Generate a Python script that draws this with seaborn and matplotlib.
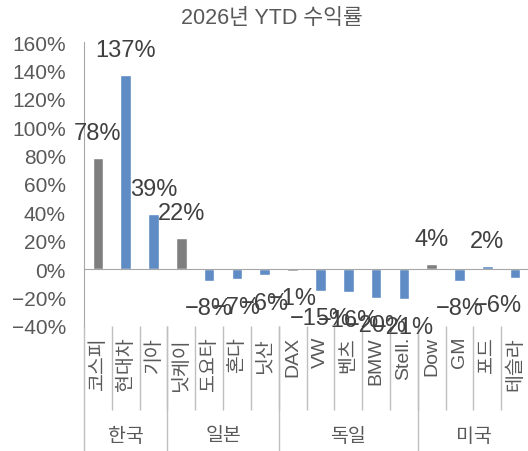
import numpy as np
import pandas as pd
import matplotlib
matplotlib.use("Agg")
import matplotlib.pyplot as plt
import seaborn as sns

# ─────────────────────────────────────────────
# DATOS
# ─────────────────────────────────────────────
nombres = ["코스피", "현대차", "기아", "닛케이", "도요타", "혼다", "닛산",
           "DAX", "VW", "벤츠", "BMW", "Stell.", "Dow", "GM", "포드", "테슬라"]
valores = [78, 137, 39, 22, -8, -7, -4, -1, -15, -16, -20, -21, 4, -8, 2, -6]
etiquetas = [78, 137, 39, 22, -8, -7, -6, -1, -15, -16, -20, -21, 4, -8, 2, -6]
tipo = ["지수", "종목", "종목", "지수", "종목", "종목", "종목",
        "지수", "종목", "종목", "종목", "종목", "지수", "종목", "종목", "종목"]
grupos = ["한국", "일본", "독일", "미국"]
tam_grupos = [3, 4, 5, 4]
yticks = [-40, -20, 0, 20, 40, 60, 80, 100, 120, 140, 160]

sns.set_style("white")
plt.rcParams['font.family'] = ['Liberation Sans', 'Noto Sans CJK KR']

GRIS_TXT = "#595959"
GRIS_LIN = "#BFBFBF"

df = pd.DataFrame({"nombre": nombres, "valor": valores, "tipo": tipo})

fig = plt.figure(figsize=(5.28, 4.52), dpi=100)
ax = fig.add_axes([84/528, 125/452, 445/528, 284/452])

sns.barplot(data=df, x="nombre", y="valor", hue="tipo",
            palette={"지수": "#7F7F7F", "종목": "#4E8AD6"},
            dodge=False, width=0.38, legend=False, ax=ax, zorder=3)

ax.set_xlim(-0.5, len(nombres) - 0.5)
ax.set_ylim(-40, 160)
ax.set_yticks(yticks)
ax.set_yticklabels([f"{v}%".replace("-", "−") for v in yticks], color=GRIS_TXT, fontsize=15)
ax.set_xlabel("")
ax.set_ylabel("")

for s in ["top", "right"]:
    ax.spines[s].set_visible(False)
ax.spines["left"].set_color("#A6A6A6")
ax.spines["bottom"].set_position(("data", 0))
ax.spines["bottom"].set_color("#A6A6A6")
ax.spines["bottom"].set_zorder(4)

bordes = np.arange(len(nombres) + 1) - 0.5
ax.set_xticks(bordes)
ax.set_xticklabels([""] * len(bordes))
ax.tick_params(axis="x", direction="in", length=6, color="#A6A6A6", width=1)
ax.tick_params(axis="y", direction="in", length=5, color="#A6A6A6", width=1, pad=13)

# etiquetas de datos
n = len(valores)
for i, (v, e) in enumerate(zip(valores, etiquetas)):
    off = 18 if v >= 0 else -20
    txt = f"{e}%".replace("-", "−")
    if i == n - 1:
        # la última se ajusta dentro del área, como en Excel
        ax.annotate(txt, (n - 0.5, v), xytext=(-5, off),
                    textcoords="offset points", ha="right", va="center",
                    fontsize=17, color="#404040", zorder=5, annotation_clip=False)
    else:
        ax.annotate(txt, (i, v), xytext=(0, off),
                    textcoords="offset points", ha="center", va="center",
                    fontsize=17, color="#404040", zorder=5)

# etiquetas de categorías y separadores
trans = ax.get_xaxis_transform()
for i, nm in enumerate(nombres):
    ax.text(i, -0.035, nm, rotation=90, ha="center", va="top",
            fontsize=14, color=GRIS_TXT, transform=trans)

ax.vlines(bordes[1:-1], -84/284, 0, transform=trans, clip_on=False,
          color=GRIS_LIN, lw=1)
limites = np.concatenate([[0], np.cumsum(tam_grupos)]) - 0.5
ax.vlines(limites, -125/284, 0, transform=trans, clip_on=False,
          color=GRIS_LIN, lw=1)
for g, a, b in zip(grupos, limites[:-1], limites[1:]):
    ax.text((a + b) / 2, -110/284, g, ha="center", va="center",
            fontsize=14, color=GRIS_TXT, transform=trans)

fig.text(272/528, 1 - 18/452, "2026년 YTD 수익률", ha="center", va="center",
         fontsize=15.5, color=GRIS_TXT)

plt.savefig("out.png", dpi=100)
